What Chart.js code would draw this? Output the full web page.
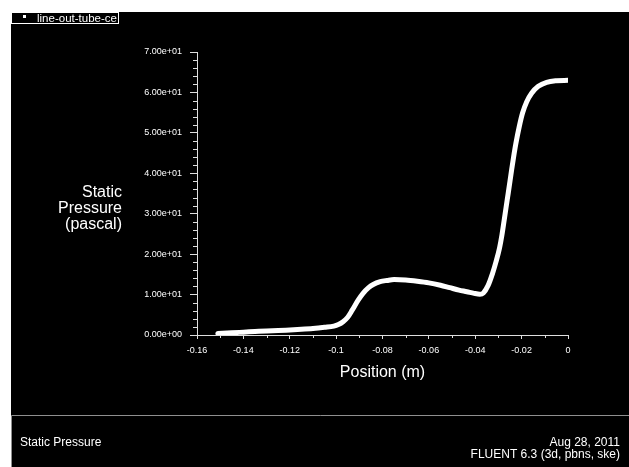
<!DOCTYPE html>
<html>
<head>
<meta charset="utf-8">
<title>Static Pressure</title>
<script src="https://cdn.jsdelivr.net/npm/chart.js@4.4.1/dist/chart.umd.min.js"></script>
<style>
	body { margin: 0; background: #fff; }
	#graficoPresion { display: block; }
</style>
</head>
<body>
<canvas id="graficoPresion" width="629" height="467"></canvas>
<script>
// valores (posicion en m, presion en pascal)
const posicion = [-0.151, -0.145, -0.14, -0.135, -0.13, -0.125, -0.12, -0.115, -0.11, -0.105,
	-0.101, -0.099, -0.097, -0.095, -0.093, -0.0905, -0.0884, -0.086, -0.084, -0.081,
	-0.078, -0.075, -0.07, -0.065, -0.06, -0.055, -0.051, -0.047, -0.0436, -0.0405,
	-0.038, -0.0365, -0.0345, -0.0325, -0.031, -0.0295, -0.0285, -0.0276, -0.0267, -0.0258,
	-0.025, -0.0243, -0.0235, -0.0225, -0.021, -0.0196, -0.0178, -0.0157, -0.0128, -0.0092,
	-0.005, 0];
const presion = [0.4, 0.55, 0.7, 0.85, 1.0, 1.1, 1.25, 1.4, 1.6, 1.9,
	2.2, 2.6, 3.3, 4.4, 6.2, 8.6, 10.3, 11.7, 12.5, 13.2,
	13.5, 13.7, 13.6, 13.3, 12.9, 12.3, 11.7, 11.1, 10.7, 10.3,
	10.1, 10.4, 12.2, 15.3, 18.2, 21.6, 24.7, 28.1, 31.6, 35.0,
	38.1, 40.9, 43.9, 47.3, 51.6, 54.9, 57.7, 59.8, 61.5, 62.5,
	62.9, 63.0];

const etiquetasX = ['-0.16', '-0.14', '-0.12', '-0.1', '-0.08', '-0.06', '-0.04', '-0.02', '0'];
const etiquetasY = ['0.00e+00', '1.00e+01', '2.00e+01', '3.00e+01', '4.00e+01', '5.00e+01', '6.00e+01', '7.00e+01'];

const nombreSerie = 'line-out-tube-ce';
const tituloY = ['Static', 'Pressure', '(pascal)'];
const tituloX = 'Position (m)';
const pieIzq = 'Static Pressure';
const pieDer = ['Aug 28, 2011', 'FLUENT 6.3 (3d, pbns, ske)'];

const FUENTE = '"Liberation Sans", Arial, sans-serif';
const GRIS_EJE = '#dedede';

var graficoPresion = null;

const fondoYTextos = {
	id: 'fondoYTextos',
	beforeDraw(chart) {
		const ctx = chart.ctx;
		ctx.save();
		ctx.fillStyle = '#fff';
		ctx.fillRect(0, 0, chart.width, chart.height);
		ctx.fillStyle = '#000';
		ctx.fillRect(11, 12, chart.width - 11, chart.height - 12);
		ctx.restore();
	},
	afterDraw(chart) {
		const ctx = chart.ctx;
		const ejeX = chart.scales.x;
		const ejeY = chart.scales.y;
		const area = chart.chartArea;
		ctx.save();

		// marcas menores
		ctx.strokeStyle = GRIS_EJE;
		ctx.lineWidth = 1;
		ctx.beginPath();
		for (let i = 1; i < 16; i += 2) {
			const px = Math.round(ejeX.getPixelForValue(-0.16 + i * 0.01)) + 0.5;
			ctx.moveTo(px, area.bottom);
			ctx.lineTo(px, area.bottom + 3);
		}
		for (let v = 2; v < 70; v += 2) {
			if (v % 10 === 0) continue;
			const py = Math.round(ejeY.getPixelForValue(v)) + 0.5;
			ctx.moveTo(area.left - 4, py);
			ctx.lineTo(area.left, py);
		}
		ctx.stroke();

		// leyenda
		ctx.strokeStyle = '#fff';
		ctx.strokeRect(11.5, 12.5, 107, 11);
		ctx.fillStyle = '#fff';
		ctx.fillRect(23, 15, 3, 3);
		ctx.font = '11.5px ' + FUENTE;
		ctx.textAlign = 'left';
		ctx.textBaseline = 'alphabetic';
		ctx.fillText(nombreSerie, 37, 21.5);

		// titulos de ejes
		ctx.font = '16px ' + FUENTE;
		ctx.textBaseline = 'middle';
		ctx.textAlign = 'right';
		tituloY.forEach(function (t, i) {
			ctx.fillText(t, 122, 193 + i * 16);
		});
		ctx.textAlign = 'center';
		ctx.fillText(tituloX, (area.left + area.right) / 2, 373);

		// panel inferior
		ctx.strokeStyle = '#8f8f8f';
		ctx.beginPath();
		ctx.moveTo(11.5, chart.height);
		ctx.lineTo(11.5, 415.5);
		ctx.lineTo(chart.width, 415.5);
		ctx.stroke();
		ctx.font = '12px ' + FUENTE;
		ctx.textAlign = 'left';
		ctx.fillText(pieIzq, 20, 443);
		ctx.textAlign = 'right';
		ctx.fillText(pieDer[0], 620, 443);
		ctx.fillText(pieDer[1], 620, 455);

		ctx.restore();
	}
};

function formatoExp(v) {
	const partes = v.toExponential(2).split('e');
	const n = parseInt(partes[1]);
	return partes[0] + 'e' + (n < 0 ? '-' : '+') + String(Math.abs(n)).padStart(2, '0');
}

function generarGraficoPresion() {
	const ctx = document.getElementById('graficoPresion').getContext('2d');

	if (graficoPresion) {
		graficoPresion.destroy();
	}

	const puntos = posicion.map(function (x, i) {
		return { x: x, y: presion[i] };
	});

	graficoPresion = new Chart(ctx, {
		type: 'scatter',
		data: {
			datasets: [{
				label: nombreSerie,
				data: puntos,
				showLine: true,
				borderColor: '#fff',
				backgroundColor: '#fff',
				borderWidth: 5,
				borderCapStyle: 'round',
				borderJoinStyle: 'round',
				cubicInterpolationMode: 'monotone',
				pointRadius: 0
			}]
		},
		options: {
			responsive: false,
			animation: false,
			layout: {
				padding: { left: 0, top: 52, right: 61, bottom: 0 }
			},
			plugins: {
				legend: { display: false },
				title: { display: false },
				tooltip: { enabled: false }
			},
			scales: {
				x: {
					type: 'linear',
					min: -0.16,
					max: 0,
					afterFit: function (scale) { scale.height = 132; },
					border: { display: true, color: GRIS_EJE, width: 1 },
					grid: { drawOnChartArea: false, drawTicks: true, tickLength: 4, color: GRIS_EJE },
					ticks: {
						stepSize: 0.02,
						color: '#fff',
						padding: 6,
						maxRotation: 0,
						font: { family: FUENTE, size: 9 },
						callback: function (value, index) {
							return etiquetasX[index] !== undefined ? etiquetasX[index] : String(parseFloat(value.toFixed(2)));
						}
					}
				},
				y: {
					type: 'linear',
					min: 0,
					max: 70,
					afterFit: function (scale) { scale.width = 197; },
					border: { display: true, color: GRIS_EJE, width: 1 },
					grid: { drawOnChartArea: false, drawTicks: true, tickLength: 7, color: GRIS_EJE },
					ticks: {
						stepSize: 10,
						color: '#fff',
						padding: 8,
						font: { family: FUENTE, size: 9 },
						callback: function (value, index) {
							return etiquetasY[index] !== undefined ? etiquetasY[index] : formatoExp(value);
						}
					}
				}
			}
		},
		plugins: [fondoYTextos]
	});
}

generarGraficoPresion();
</script>
</body>
</html>
